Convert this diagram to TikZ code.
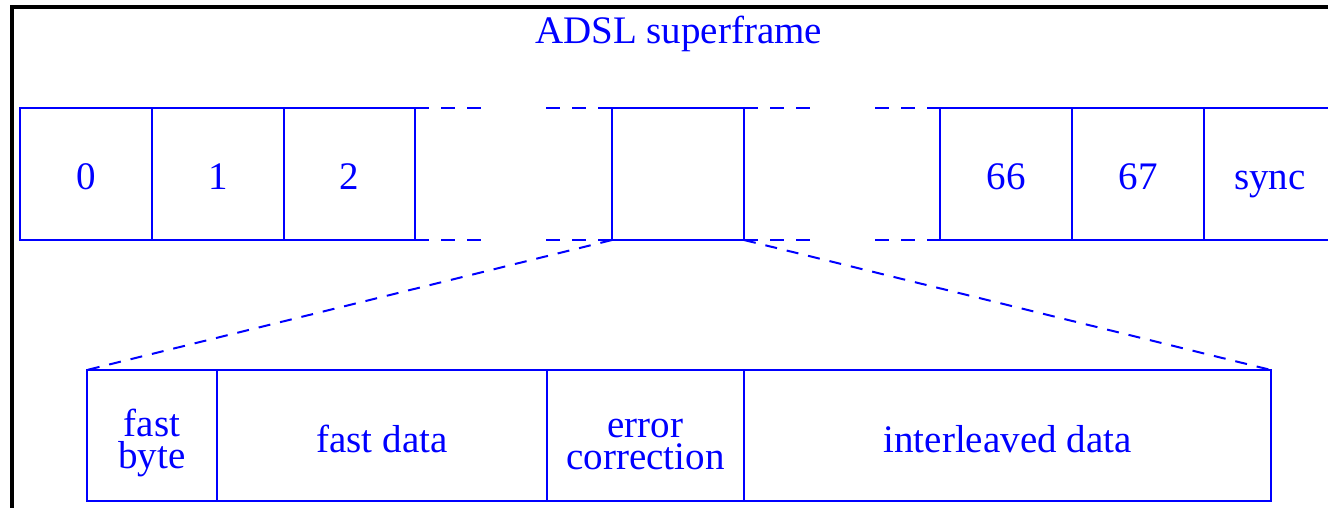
\documentclass[tikz,border=0pt]{standalone}
\usepackage{fontspec}
\setmainfont{Liberation Serif}
\definecolor{fig}{RGB}{0,0,255}
\begin{document}
\begin{tikzpicture}[x=0.5pt,y=-0.5pt,
  cell/.style={draw=fig, line width=1pt, inner sep=0pt, outer sep=0pt},
  topcell/.style={cell, minimum height=66pt},
  botcell/.style={cell, minimum height=65.5pt},
  txt/.style={text=fig, anchor=base, inner sep=0pt, align=center,
    font=\fontsize{19.5pt}{16pt}\selectfont},
  gapline/.style={fig, line width=1pt,
    dash pattern=on 7pt off 6pt on 7pt off 6pt on 7pt off 32.5pt on 7pt off 6pt on 7pt off 6pt on 7pt},
  diag/.style={fig, line width=1pt, dash pattern=on 6pt off 5pt}]
\useasboundingbox (0,0) rectangle (1328,508);
% frame
\draw[black, line width=1.6pt] (12,515) -- (12,7) -- (1340,7);
% title
\node[txt] (title) at (678.5,44) {ADSL superframe};
% top row
\node[topcell, minimum width=66pt]   (c0)  at (86,174)    {};
\node[topcell, minimum width=66pt]   (c1)  at (218,174)   {};
\node[topcell, minimum width=65.5pt] (c2)  at (349.5,174) {};
\node[topcell, minimum width=66pt]   (cm)  at (678,174)   {};
\node[topcell, minimum width=66pt]   (c66) at (1006,174)  {};
\node[topcell, minimum width=66pt]   (c67) at (1138,174)  {};
\node[topcell, minimum width=66pt]   (cs)  at (1270,174)  {};
\node[txt] (t0)  at (86,190)   {0};
\node[txt] (t1)  at (218,190)  {1};
\node[txt] (t2)  at (349.5,190) {2};
\node[txt] (t66) at (1006,190) {66};
\node[txt] (t67) at (1138,190) {67};
\node[txt] (ts)  at (1270,190) {sync};
% gaps
\draw[gapline] (c2.north east) -- (cm.north west);
\draw[gapline] (c2.south east) -- (cm.south west);
\draw[gapline] (cm.north east) -- (c66.north west);
\draw[gapline] (cm.south east) -- (c66.south west);
% bottom row
\node[botcell, minimum width=65pt]    (fb) at (152,435.5)   {};
\node[botcell, minimum width=165pt]   (fd) at (382,435.5)   {};
\node[botcell, minimum width=98.5pt]  (ec) at (645.5,435.5) {};
\node[botcell, minimum width=263.5pt] (il) at (1007.5,435.5) {};
\node[txt] (tfb) at (152,468)    {fast\\byte};
\node[txt] (tfd) at (382,452)    {fast data};
\node[txt] (tec) at (645.5,469)  {error\\correction};
\node[txt] (til) at (1007.5,452) {interleaved data};
% zoom lines
\draw[diag] (cm.south west) -- (fb.north west);
\draw[diag] (cm.south east) -- (il.north east);
\end{tikzpicture}
\end{document}
